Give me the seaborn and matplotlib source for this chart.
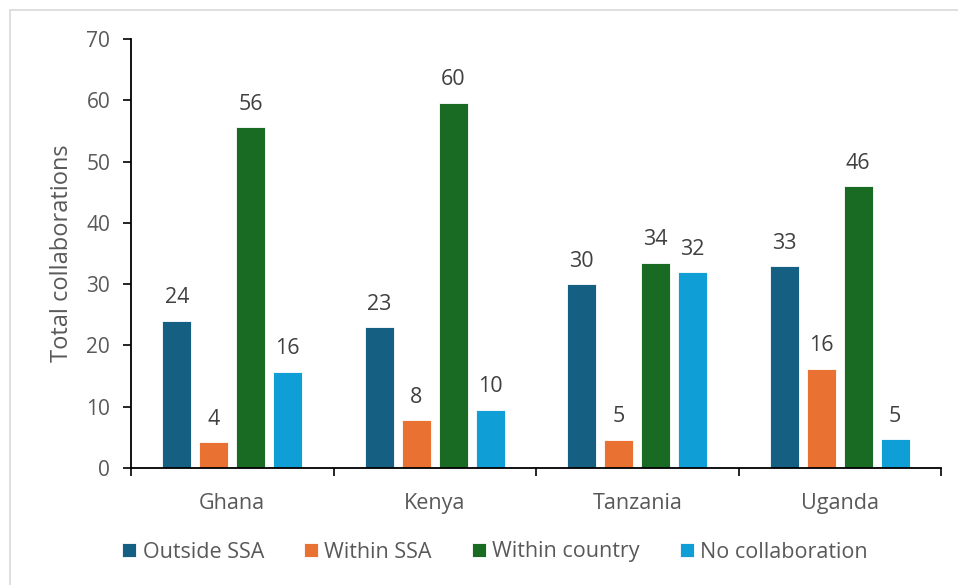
import matplotlib
matplotlib.use("Agg")
import matplotlib.pyplot as plt
import seaborn as sns
import pandas as pd
from matplotlib.patches import Rectangle
from matplotlib.ticker import FixedLocator

countries = ["Ghana", "Kenya", "Tanzania", "Uganda"]
series = ["Outside SSA", "Within SSA", "Within country", "No collaboration"]
outside_ssa = [24.0, 23.0, 30.0, 32.9]
within_ssa = [4.2, 7.8, 4.6, 16.2]
within_country = [55.6, 59.6, 33.5, 46.0]
no_collab = [15.7, 9.5, 31.9, 4.7]
colors = ["#156082", "#E97132", "#196B24", "#0F9ED5"]

rows = []
for s, vals in zip(series, [outside_ssa, within_ssa, within_country, no_collab]):
    for c, v in zip(countries, vals):
        rows.append({"Country": c, "Series": s, "Value": v})
df = pd.DataFrame(rows)

sns.set_theme(style="white")
plt.rcParams["font.family"] = ["Open Sans", "DejaVu Sans"]

fig = plt.figure(figsize=(9.58, 5.85), dpi=100)
ax = fig.add_axes([131/958, 1-468/585, (941-131)/958, (468-39)/585])

sns.barplot(data=df, x="Country", y="Value", hue="Series", hue_order=series,
            order=countries, palette=colors, saturation=1, width=0.73, gap=0.21,
            edgecolor="white", linewidth=0.6, ax=ax, legend=True)

for cont in ax.containers:
    ax.bar_label(cont, labels=[f"{round(b.get_height()):d}" for b in cont],
                 padding=9, fontsize=15.5, color="#404040")

ax.set_ylim(0, 70)
ax.set_xlim(-0.5, 3.5)
ax.set_yticks(range(0, 71, 10))
ax.set_xlabel("")
ax.set_ylabel("Total collaborations", fontsize=17, color="#595959", labelpad=9)
ax.tick_params(axis="y", labelsize=15, colors="#595959", length=6, width=1.2,
               direction="out", left=True, pad=9)
ax.tick_params(axis="y", color="black")
ax.tick_params(axis="x", which="major", labelsize=15.5, colors="#595959", length=0, pad=18)
ax.xaxis.set_minor_locator(FixedLocator([-0.5, 0.5, 1.5, 2.5, 3.5]))
ax.tick_params(axis="x", which="minor", length=6, width=1.2, color="black", direction="out", bottom=True)
for side in ["top", "right"]:
    ax.spines[side].set_visible(False)
for side in ["left", "bottom"]:
    ax.spines[side].set_color("black")
    ax.spines[side].set_linewidth(1.3)

handles, labels = ax.get_legend_handles_labels()
ax.legend_.remove()
fig.legend(handles, labels, loc="center", bbox_to_anchor=(495/958, 1-552/585),
           ncol=4, frameon=False, fontsize=15.5, labelcolor="#595959",
           handlelength=0.65, handleheight=0.65, handletextpad=0.3,
           columnspacing=1.85)

fig.patches.append(Rectangle((10/958, -0.05), 1.1, 1-10/585+0.05,
                             transform=fig.transFigure, fill=False,
                             edgecolor="#d9d9d9", linewidth=1.2))

fig.savefig("out.png", dpi=100)
